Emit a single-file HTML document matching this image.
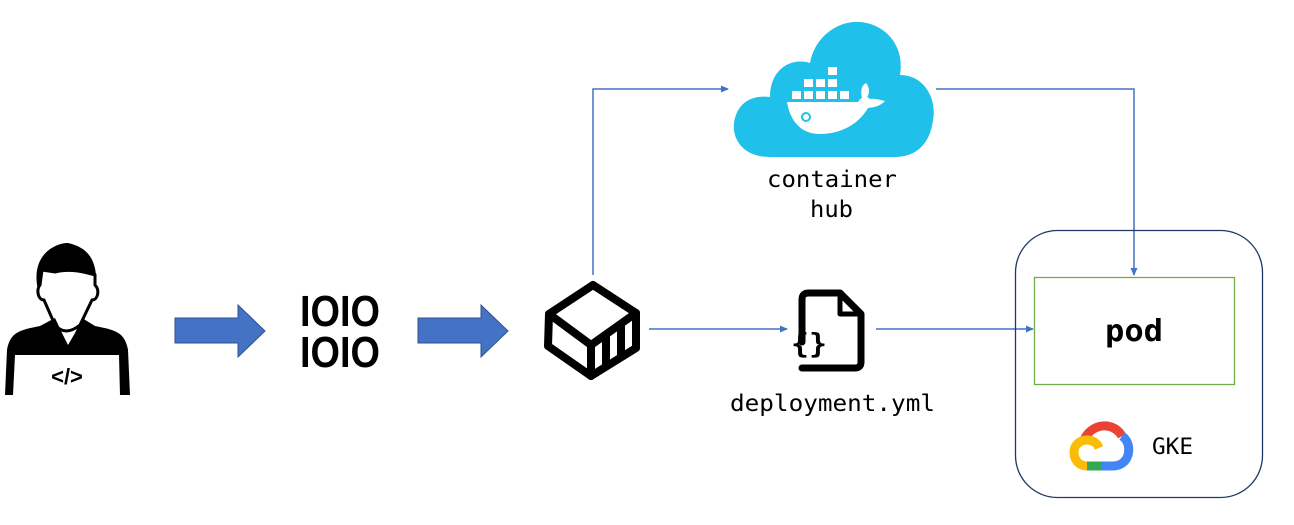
<!DOCTYPE html>
<html><head><meta charset="utf-8"><style>
html,body{margin:0;padding:0;background:#fff;width:1294px;height:525px;overflow:hidden}
svg{display:block}
.m{font-family:"DejaVu Sans Mono","Liberation Mono",monospace}
</style></head><body>
<svg width="1294" height="525" viewBox="0 0 1294 525" xmlns="http://www.w3.org/2000/svg">
<defs>
<marker id="ah" markerWidth="8" markerHeight="8" refX="7" refY="4" orient="auto" markerUnits="userSpaceOnUse"><path d="M0,0.5 L8,4 L0,7.5 Z" fill="#4472c4"/></marker>
</defs>
<!-- person -->
<path d="M38,290 C30,255 55,243 68,243 C90,248 98,262 96,290 Z" fill="#000"/>
<path d="M40,285 C36,290 38,300 44,300 L55,325 C62,333 70,333 80,325 L92,300 C98,300 100,290 95,285 L95,275 C85,272 70,268 55,272 L42,270 Z" fill="#fff" stroke="#000" stroke-width="3"/>
<path d="M5,395 L7,350 C10,332 20,330 40,326 L55,318 L62,333 L68,345 L75,333 L82,318 L95,326 C115,330 125,332 128,350 L130,395 L120,395 L119,355 L15,355 L13,395 Z" fill="#000"/>
<text x="67" y="384" text-anchor="middle" font-family="Liberation Sans,sans-serif" font-weight="bold" font-size="22">&lt;/&gt;</text>
<!-- fat arrows -->
<path d="M175,318 H238 V305 L265,331 L238,357 V343 H175 Z" fill="#4472c4" stroke="#2f528f" stroke-width="1"/>
<path d="M418,318 H481 V305 L508,331 L481,357 V343 H418 Z" fill="#4472c4" stroke="#2f528f" stroke-width="1"/>
<!-- 1010 -->
<text x="300" y="326" font-family="Liberation Sans Narrow,Liberation Sans,sans-serif" font-weight="bold" font-size="44" textLength="80" lengthAdjust="spacingAndGlyphs">IOIO</text>
<text x="300" y="367" font-family="Liberation Sans Narrow,Liberation Sans,sans-serif" font-weight="bold" font-size="44" textLength="80" lengthAdjust="spacingAndGlyphs">IOIO</text>
<!-- container -->
<g fill="none" stroke="#000" stroke-width="8" stroke-linejoin="round" stroke-linecap="round">
<path d="M549,314 L593,285 L636,313 L636,348 L591,376 L548,346 Z"/>
<path d="M549,314 L591,345 L636,313"/>
<path d="M591,345 V376 M606,336 V365 M621,326 V356"/>
</g>
<!-- connectors -->
<g fill="none" stroke="#4472c4" stroke-width="1.5">
<path d="M593,275 V89 H728" marker-end="url(#ah)"/>
<path d="M936,89 H1134 V275" marker-end="url(#ah)"/>
<path d="M649,329 H787" marker-end="url(#ah)"/>
<path d="M876,329 H1033" marker-end="url(#ah)"/>
</g>
<!-- cloud -->
<path d="M770,157 C740,157 730,135 735,118 C740,100 755,95 770,97 C770,70 790,57 810,63 C815,35 840,20 860,22 C885,24 905,45 900,75 C925,75 937,100 933,120 C930,145 915,157 895,157 Z" fill="#1fc0ea"/>
<g fill="#fff">
<rect x="792" y="91" width="9" height="8"/><rect x="804" y="91" width="9" height="8"/><rect x="816" y="91" width="9" height="8"/><rect x="828" y="91" width="9" height="8"/><rect x="840" y="91" width="9" height="8"/>
<rect x="804" y="79" width="9" height="8"/><rect x="816" y="79" width="9" height="8"/><rect x="828" y="79" width="9" height="8"/>
<rect x="828" y="67" width="9" height="8"/>
<path d="M787,102 H858 C862,96 866,95 870,99 C875,98 880,100 885,101 C878,108 872,107 868,108 C858,125 840,134 820,134 C800,134 790,120 787,102 Z"/>
<path d="M862,98 C860,90 862,85 866,83 C870,88 870,94 866,99 Z"/>
</g>
<circle cx="806" cy="117" r="4" fill="none" stroke="#1fc0ea" stroke-width="2"/>
<text x="767" y="187" class="m" font-size="23" textLength="130" lengthAdjust="spacingAndGlyphs">container</text>
<text x="810" y="217" class="m" font-size="23" textLength="43" lengthAdjust="spacingAndGlyphs">hub</text>
<!-- file -->
<g fill="none" stroke="#000" stroke-width="7" stroke-linejoin="round" stroke-linecap="round">
<path d="M802,342 V300 C802,295 804,293 809,293 H840 L861,314 V362 C861,366 859,368 855,368 H802"/>
<path d="M840,293 V314 H861" stroke-width="5"/>
</g>
<text x="791" y="353" font-family="DejaVu Sans Mono,monospace" font-weight="bold" font-size="28" textLength="36" lengthAdjust="spacingAndGlyphs">{}</text>
<text x="730" y="411" class="m" font-size="23" textLength="205" lengthAdjust="spacingAndGlyphs">deployment.yml</text>
<!-- GKE box -->
<rect x="1015.5" y="230.5" width="247" height="267" rx="42" fill="none" stroke="#1f3864" stroke-width="1.3"/>
<rect x="1034.5" y="277.5" width="200" height="107" fill="none" stroke="#70ad47" stroke-width="1.3"/>
<text x="1105" y="341" class="m" font-weight="bold" font-size="30" textLength="58" lengthAdjust="spacingAndGlyphs">pod</text>
<!-- google cloud logo -->
<g fill="none" stroke-width="9">
<path d="M1084,440 C1088,430 1098,425 1107,426 C1114,427 1119,431 1122,436" stroke="#ea4335"/>
<path d="M1122,436 C1128,440 1130,448 1128,455 C1126,462 1120,466 1113,466 H1101" stroke="#4285f4"/>
<path d="M1101,466 H1087" stroke="#34a853"/>
<path d="M1087,466 C1079,466 1074,460 1074,452 C1074,445 1080,440 1087,440 C1093,440 1097,443 1099,448" stroke="#fbbc05"/>
</g>
<text x="1152" y="454" class="m" font-size="22" textLength="41" lengthAdjust="spacingAndGlyphs">GKE</text>
</svg>
</body></html>
